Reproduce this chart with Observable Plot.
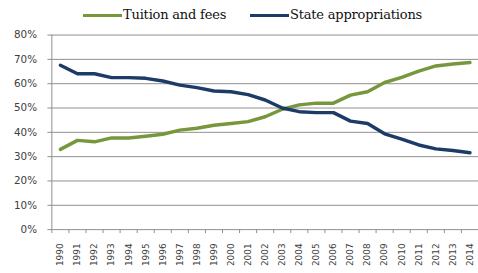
<!DOCTYPE html>
<html>
<head>
<meta charset="utf-8">
<script src="https://cdn.jsdelivr.net/npm/d3@7"></script>
<script src="https://cdn.jsdelivr.net/npm/@observablehq/plot@0.6"></script>
<style>
  html, body { margin: 0; padding: 0; background: #fff; overflow: hidden; }
  #wrap { position: relative; width: 478px; height: 273px; overflow: hidden; }
  #legend { position: absolute; top: 5px; left: 0; width: 478px; height: 20px;
            font-family: "DejaVu Serif", serif; font-size: 13px; color: #111; }
  .item { position: absolute; top: 0; height: 20px; line-height: 20px; white-space: nowrap; }
  .swatch { position: absolute; top: 9px; width: 39px; height: 3px; }
  .lbl { position: absolute; left: 40px; top: 0; letter-spacing: -0.2px; }
</style>
</head>
<body>
<div id="wrap">
  <div id="chart"></div>
  <div id="legend"></div>
</div>
<script>
const years = [1990, 1991, 1992, 1993, 1994, 1995, 1996, 1997, 1998, 1999, 2000, 2001, 2002,
               2003, 2004, 2005, 2006, 2007, 2008, 2009, 2010, 2011, 2012, 2013, 2014];
const tuitionFees = [33.0, 36.7, 36.1, 37.7, 37.7, 38.4, 39.2, 40.9, 41.7, 42.9, 43.6, 44.4, 46.4,
                     49.5, 51.3, 52.0, 52.0, 55.3, 56.7, 60.5, 62.6, 65.2, 67.3, 68.1, 68.7];
const stateApprop = [67.6, 64.1, 64.1, 62.5, 62.5, 62.2, 61.1, 59.4, 58.4, 57.0, 56.7, 55.5, 53.3,
                     50.0, 48.5, 48.1, 48.1, 44.6, 43.6, 39.4, 37.2, 34.8, 33.2, 32.5, 31.6];
const yTicks = [0, 10, 20, 30, 40, 50, 60, 70, 80];
const seriesNames = ["Tuition and fees", "State appropriations"];
const colors = ["#77973d", "#1c3b66"];

const data = years.map((yr, i) => ({year: yr, tuition: tuitionFees[i], state: stateApprop[i]}));
const boundaries = years.map(y => y - 0.5).concat([years[years.length - 1] + 0.5]);

const gridColor = "#8e8e8e";

const chart = Plot.plot({
  width: 484,
  height: 273,
  marginLeft: 52,
  marginRight: 0,
  marginTop: 35,
  marginBottom: 41,
  style: {fontFamily: "DejaVu Sans", fontSize: "10px", color: "#404040", background: "#fff"},
  x: {type: "linear", domain: [boundaries[0], boundaries[boundaries.length - 1]]},
  y: {domain: [0, 80]},
  marks: [
    Plot.gridY(yTicks, {stroke: gridColor, strokeOpacity: 1}),
    Plot.ruleX([boundaries[0]], {y1: 0, y2: 80, stroke: gridColor}),
    Plot.axisY({ticks: yTicks, tickFormat: d => d + "%", tickSize: 4, tickPadding: 11,
                stroke: gridColor, fill: "#404040", fontSize: 10.5, label: null}),
    Plot.axisX({ticks: boundaries, tickFormat: () => "", tickSize: 4, stroke: gridColor, label: null}),
    Plot.axisX({ticks: years, tickSize: 0, tickPadding: 14, tickRotate: -90,
                tickFormat: d => String(d), fontSize: 9, fill: "#404040", label: null}),
    Plot.line(data, {x: "year", y: "tuition", stroke: colors[0], strokeWidth: 3.5}),
    Plot.line(data, {x: "year", y: "state", stroke: colors[1], strokeWidth: 3.5})
  ]
});
document.getElementById("chart").appendChild(chart);

const legend = document.getElementById("legend");
const lefts = [83, 250];
seriesNames.forEach((name, i) => {
  const item = document.createElement("div");
  item.className = "item";
  item.style.left = lefts[i] + "px";
  const sw = document.createElement("div");
  sw.className = "swatch";
  sw.style.background = colors[i];
  const t = document.createElement("span");
  t.className = "lbl";
  t.textContent = name;
  item.appendChild(sw);
  item.appendChild(t);
  legend.appendChild(item);
});
</script>
</body>
</html>
